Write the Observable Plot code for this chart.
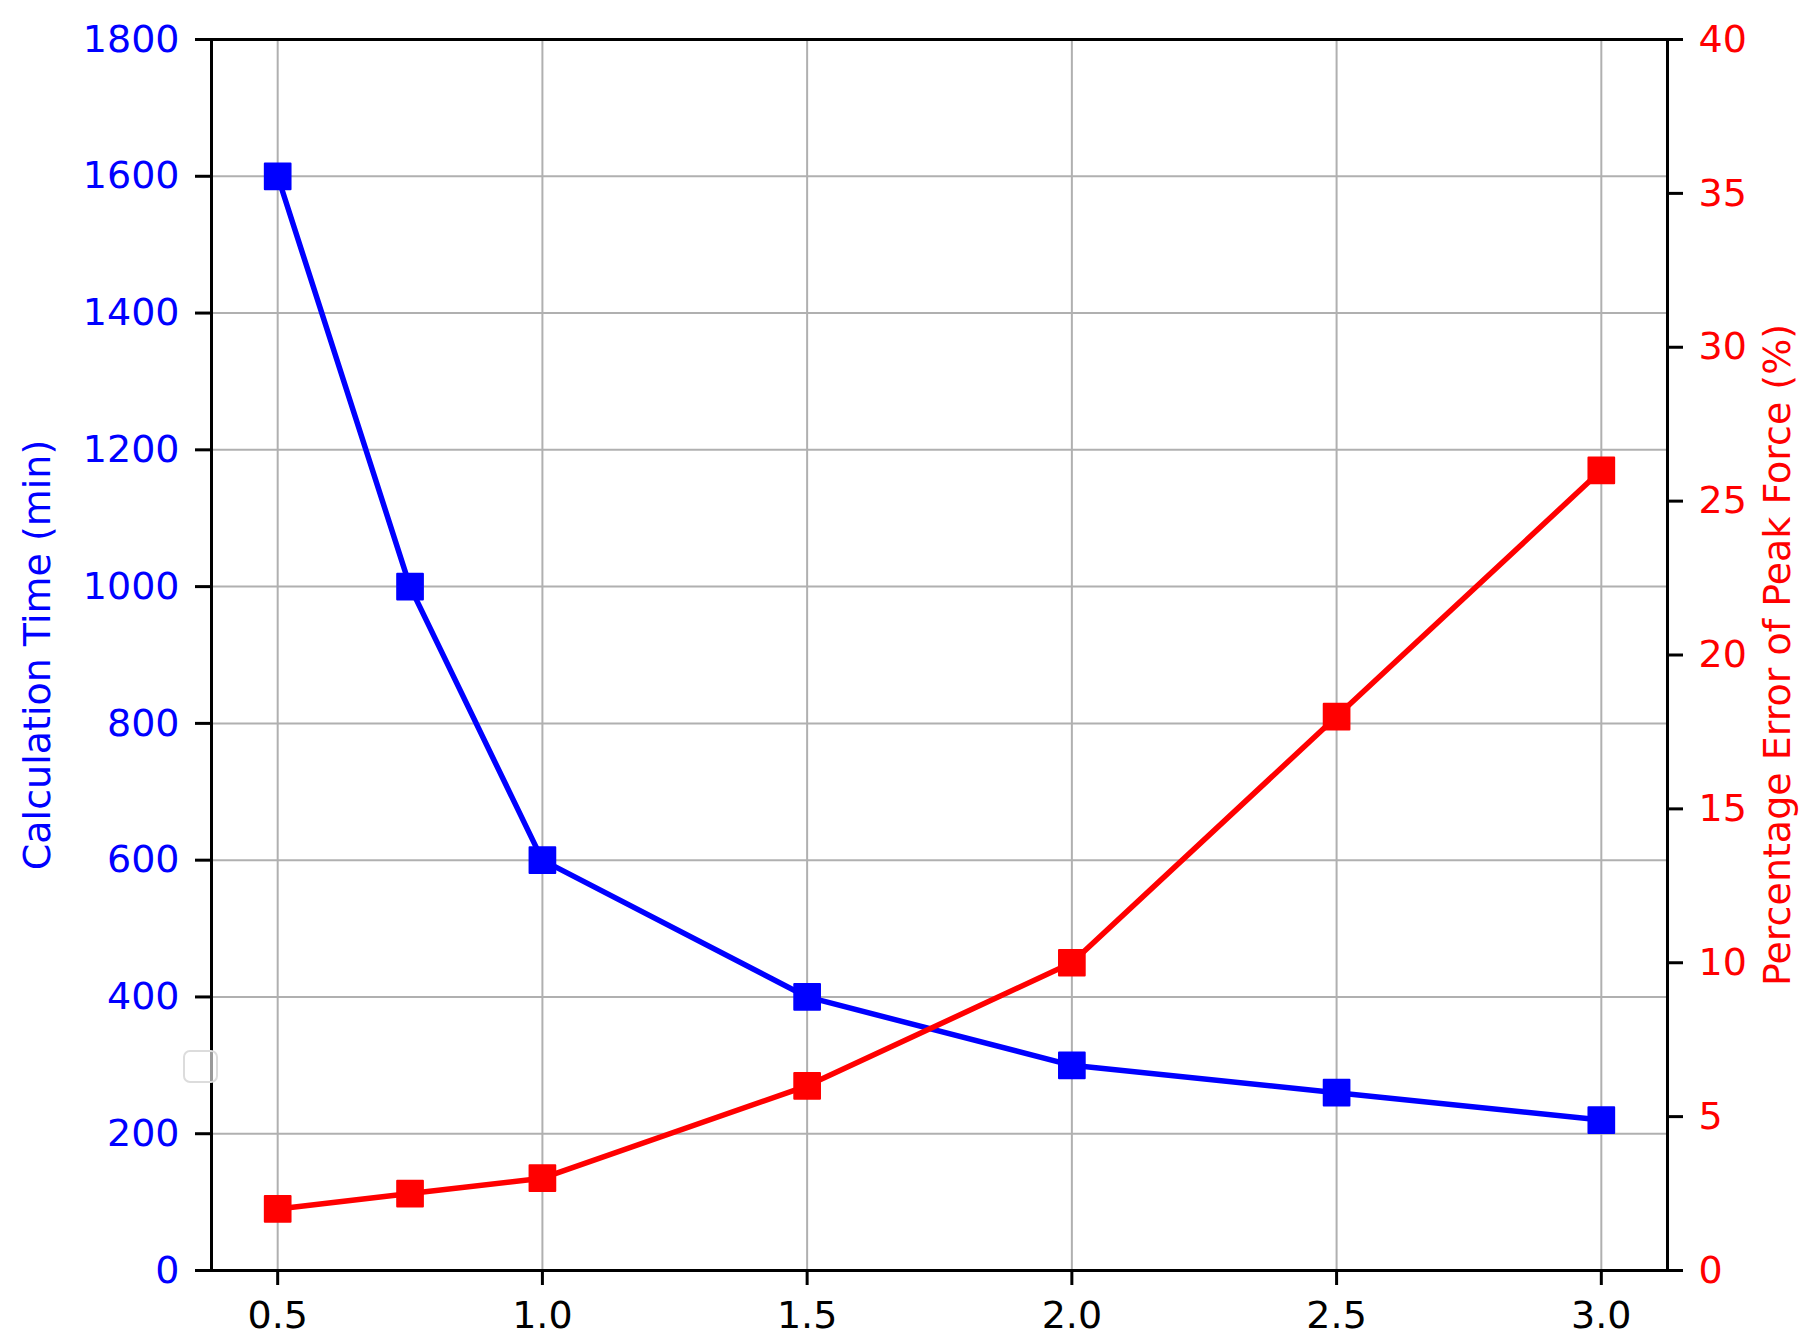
<!DOCTYPE html>
<html><head><meta charset="utf-8">
<script src="https://cdn.jsdelivr.net/npm/d3@7"></script>
<script src="https://cdn.jsdelivr.net/npm/@observablehq/plot@0.6"></script>
<style>
body{margin:0;background:#fff;}
#chart{position:relative;width:1811px;height:1344px;}
#legend{position:absolute;left:183px;top:1050px;width:31px;height:29px;border:2px solid #dcdcdc;border-radius:7px;background:rgba(255,255,255,0.6);}
</style></head>
<body><div id="chart"><div id="legend"></div></div>
<script>
// data
const xValues = [0.5, 0.75, 1.0, 1.5, 2.0, 2.5, 3.0];
const calcTime = [1600, 1000, 600, 400, 300, 260, 220];      // left axis (min)
const peakError = [2, 2.5, 3, 6, 10, 18, 26];                 // right axis (%)
const xTicks = [0.5, 1.0, 1.5, 2.0, 2.5, 3.0];
const leftTicks = [0, 200, 400, 600, 800, 1000, 1200, 1400, 1600, 1800];
const rightTicks = [0, 5, 10, 15, 20, 25, 30, 35, 40];
const leftLabel = "Calculation Time (min)";
const rightLabel = "Percentage Error of Peak Force (%)";

const leftMax = 1800, rightMax = 40;
const k = leftMax / rightMax;
const rows = xValues.map((x, i) => ({x, t: calcTime[i], e: peakError[i]}));

const fs = 38;
const chart = Plot.plot({
  width: 1811, height: 1344,
  marginLeft: 211, marginRight: 144, marginTop: 39, marginBottom: 74,
  style: {fontFamily: "DejaVu Sans", background: "transparent"},
  x: {domain: [0.375, 3.125]},
  y: {domain: [0, leftMax]},
  marks: [
    Plot.gridX({ticks: xTicks, stroke: "#b0b0b0", strokeOpacity: 1, strokeWidth: 2}),
    Plot.gridY({ticks: leftTicks, stroke: "#b0b0b0", strokeOpacity: 1, strokeWidth: 2}),
    Plot.frame({stroke: "black", strokeWidth: 3}),
    Plot.axisX({ticks: xTicks, tickFormat: d3.format(".1f"), tickSize: 15, tickPadding: 16,
      fontSize: fs, stroke: "black", strokeWidth: 3, fill: "black", label: null}),
    Plot.axisY({ticks: leftTicks, tickFormat: d => String(d), tickSize: 16, tickPadding: 16,
      fontSize: fs, stroke: "black", strokeWidth: 3, fill: "blue",
      label: leftLabel, labelAnchor: "center", labelArrow: "none", labelOffset: 188}),
    Plot.axisY({anchor: "right", ticks: rightTicks.map(v => v * k), tickFormat: d => String(Math.round(d / k)),
      tickSize: 15, tickPadding: 16, fontSize: fs, stroke: "black", strokeWidth: 3, fill: "red",
      label: rightLabel, labelAnchor: "center", labelArrow: "none", labelOffset: 122}),
    Plot.line(rows, {x: "x", y: "t", stroke: "blue", strokeWidth: 5.5}),
    Plot.dot(rows, {x: "x", y: "t", symbol: "square", r: 14.5, fill: "blue", stroke: "blue", strokeWidth: 2, strokeLinejoin: "round"}),
    Plot.line(rows, {x: "x", y: d => d.e * k, stroke: "red", strokeWidth: 5.5}),
    Plot.dot(rows, {x: "x", y: d => d.e * k, symbol: "square", r: 14.5, fill: "red", stroke: "red", strokeWidth: 2, strokeLinejoin: "round"})
  ]
});
document.getElementById("chart").prepend(chart);
</script>
</body></html>
